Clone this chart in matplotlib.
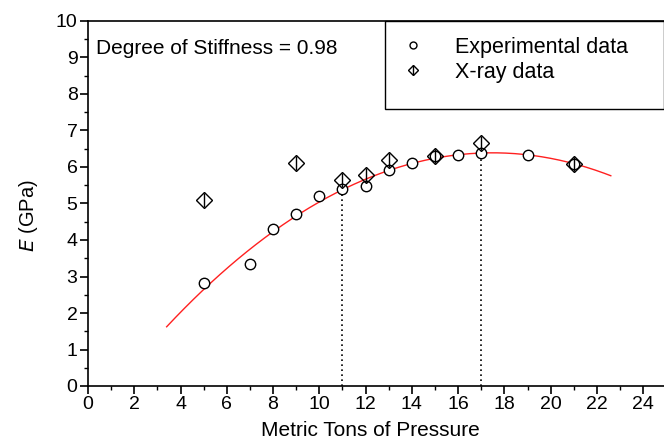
import numpy as np
import matplotlib.pyplot as plt
from matplotlib.lines import Line2D
from matplotlib.patches import Rectangle

plt.rcParams['font.family'] = ['Liberation Sans', 'DejaVu Sans']

# experimental data (circles)
exp_x = [5, 7, 8, 9, 10, 11, 12, 13, 14, 15, 16, 17, 19, 21]
exp_y = [2.82, 3.35, 4.30, 4.72, 5.21, 5.39, 5.49, 5.92, 6.12, 6.30, 6.34, 6.39, 6.33, 6.07]

# x-ray data (diamonds)
xray_x = [5, 9, 11, 12, 13, 15, 17, 21]
xray_y = [5.09, 6.10, 5.64, 5.79, 6.19, 6.29, 6.65, 6.09]

# range of the quadratic fit
fit_x0, fit_x1 = 3.4, 22.6
# dotted markers
mark_x = [11, 17]

fig = plt.figure(figsize=(6.64, 4.46), dpi=100)
ax = fig.add_axes([88/664, 1-386/446, 1-88/664, (386-21)/446])

coef = np.polyfit(exp_x, exp_y, 2)
xf = np.linspace(fit_x0, fit_x1, 200)
ax.plot(xf, np.polyval(coef, xf), color='#ff2020', lw=1.0, zorder=2)

for mx in mark_x:
    my = exp_y[exp_x.index(mx)]
    ax.plot([mx, mx], [0, my], color='black', lw=1.2, ls=(0, (1, 2)), zorder=1)

ax.plot(exp_x, exp_y, 'o', mfc='white', mec='black', mew=1.0, ms=7.5, zorder=3)
ax.plot(xray_x, xray_y, 'D', mfc='none', mec='black', mew=1.0, ms=8, zorder=4)
ax.plot(xray_x, xray_y, '|', color='black', mew=1.0, ms=10, zorder=4)

ax.set_xlim(0, 24.9)
ax.set_ylim(0, 10)
ax.set_xticks(range(0, 25, 2))
ax.set_xticks(range(0, 25, 1), minor=True)
ax.set_yticks(range(0, 11))
ax.set_yticks(np.arange(0, 10.5, 0.5), minor=True)
ax.tick_params(which='major', direction='out', length=5.5, width=1.2, labelsize=14, pad=2)
ax.tick_params(which='minor', direction='out', length=3, width=1.0)
for s in ax.spines.values():
    s.set_linewidth(1.2)
ax.spines['right'].set_visible(False)

ax.set_xlabel('Metric Tons of Pressure', fontsize=15)
ax.xaxis.set_label_coords(0.491, -0.095)
ax.set_ylabel('$E$ (GPa)', fontsize=14.5)
ax.yaxis.set_label_coords(-0.083, 0.466)

ax.text(0.014, 0.925, 'Degree of Stiffness = 0.98', transform=ax.transAxes,
        fontsize=15, va='center', ha='left')

# legend box
ax.add_patch(Rectangle((0.516, 0.76), 0.484, 0.24, transform=ax.transAxes,
                       fill=False, ec='black', lw=1.0, clip_on=False, zorder=5))
h1 = Line2D([], [], ls='none', marker='o', mfc='white', mec='black', ms=5)
h2a = Line2D([], [], ls='none', marker='D', mfc='none', mec='black', ms=5.5)
h2b = Line2D([], [], ls='none', marker='|', color='black', ms=7)
ax.legend([h1, (h2a, h2b)], ['Experimental data', 'X-ray data'],
          loc='upper left', bbox_to_anchor=(0.512, 1.01), frameon=False,
          fontsize=15.5, handlelength=1.0, handletextpad=1.45, labelspacing=0.2,
          borderpad=0.4)

fig.savefig('out.png', dpi=100)
